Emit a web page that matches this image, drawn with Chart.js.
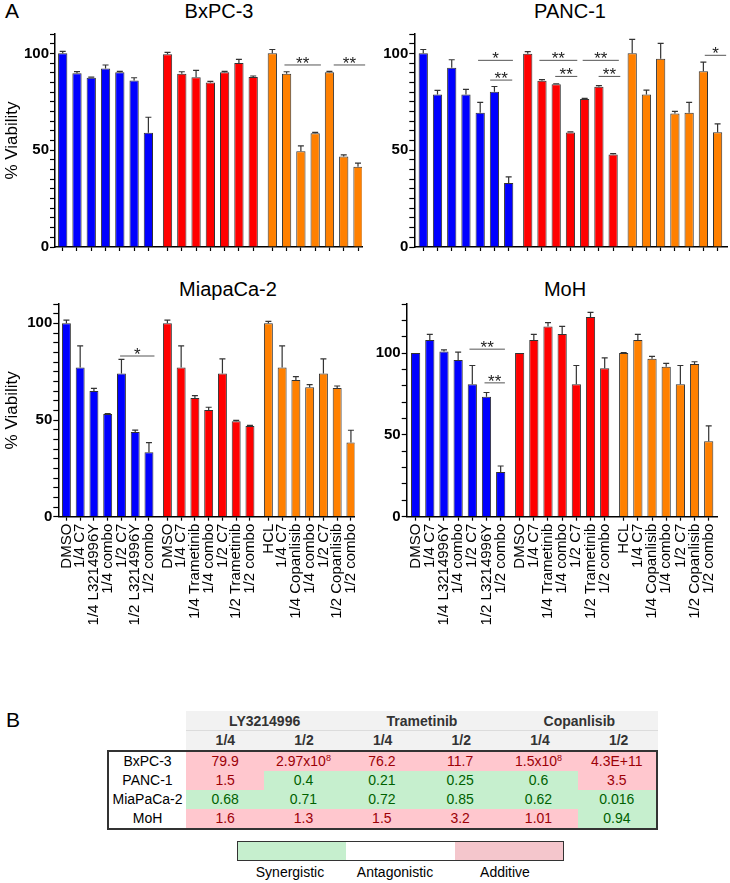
<!DOCTYPE html>
<html>
<head>
<meta charset="utf-8">
<script src="https://cdn.jsdelivr.net/npm/chart.js@4.4.1/dist/chart.umd.min.js"></script>
<style>
  body { margin: 0; background: #fff; width: 730px; height: 883px; position: relative; overflow: hidden;
         font-family: "Liberation Sans", Arial, sans-serif; color: #000; }
  canvas { position: absolute; }
  .letter { position: absolute; font-size: 21px; line-height: 21px; }
  .ttl { position: absolute; width: 200px; text-align: center; font-size: 20px; line-height: 20px; }
  #head { position: absolute; left: 186px; top: 711px; width: 472px; height: 39px; background: #f2f2f2;
          display: grid; grid-template-columns: repeat(6, 1fr); grid-template-rows: 20px 19px; }
  #head div { text-align: center; font-weight: bold; font-size: 14px; color: #333; }
  #head .grp { grid-column: span 2; line-height: 20px; border-bottom: 1px solid #dcdcdc; }
  #head .sub { line-height: 19px; }
  #body { position: absolute; left: 107px; top: 750px; width: 551px; height: 80px; box-sizing: border-box;
          border: 2px solid #333; display: grid; grid-template-columns: 77px repeat(6, 1fr);
          grid-template-rows: repeat(4, 19px); }
  #body div { text-align: center; font-size: 14px; line-height: 19px; }
  #body .add { background: #ffc7ce; color: #9c0006; }
  #body .syn { background: #c6efce; color: #006100; }
  sup { font-size: 9px; line-height: 0; vertical-align: 5px; }
  #legend { position: absolute; left: 237px; top: 841px; width: 327px; height: 20px; box-sizing: border-box;
            border: 1.5px solid #333; display: flex; }
  #legend div { flex: 1; }
  .leg { position: absolute; top: 863px; width: 110px; text-align: center; font-size: 14px; line-height: 18px; }
</style>
</head>
<body>
<div class="letter" style="left:5px;top:0px">A</div>
<div class="letter" style="left:6px;top:709px">B</div>

<div class="ttl" style="left:119px;top:1px">BxPC-3</div>
<div class="ttl" style="left:470px;top:1px">PANC-1</div>
<div class="ttl" style="left:128px;top:279px">MiapaCa-2</div>
<div class="ttl" style="left:465px;top:279px">MoH</div>

<canvas id="c1" width="368" height="262" style="left:0px;top:0px"></canvas>
<canvas id="c2" width="365" height="262" style="left:365px;top:0px"></canvas>
<canvas id="c3" width="372" height="370" style="left:0px;top:270px"></canvas>
<canvas id="c4" width="365" height="370" style="left:365px;top:270px"></canvas>

<div id="head"></div>
<div id="body"></div>
<div id="legend"><div style="background:#c6efce"></div><div style="background:#fff"></div><div style="background:#f4c6cc"></div></div>
<div class="leg" style="left:235px">Synergistic</div>
<div class="leg" style="left:340px">Antagonistic</div>
<div class="leg" style="left:450px">Additive</div>

<script>
const FONT = '"Liberation Sans", Arial, sans-serif';

// x categories (3 groups of 7)
const categories = [
  'DMSO', '1/4 C7', '1/4 L3214996Y', '1/4 combo', '1/2 C7', '1/2 L3214996Y', '1/2 combo',
  'DMSO', '1/4 C7', '1/4 Trametinib', '1/4 combo', '1/2 C7', '1/2 Trametinib', '1/2 combo',
  'HCL', '1/4 C7', '1/4 Copanlisib', '1/4 combo', '1/2 C7', '1/2 Copanlisib', '1/2 combo'
];
const groupColors = ['#0000ff', '#ff0000', '#ff8000'];

// % viability, mean and error (upper bar)
const bxpcMean = [100, 89.7, 87.4, 92.2, 90.2, 86, 59,   99.5, 89.5, 87.6, 85, 90.2, 95, 87.8,   100, 89.5, 49.5, 58.8, 90.2, 46.7, 41.5];
const bxpcErr  = [1, 0.9, 0.3, 1.8, 0.5, 1.4, 8,         1, 1, 3.6, 0.5, 0.5, 1.9, 0.5,           2, 1, 2.7, 0.4, 0.5, 0.9, 1.8];
const pancMean = [100, 78.8, 92.6, 78.8, 69.3, 80.2, 33.1, 99.8, 85.9, 84, 59.1, 76.4, 82.8, 47.8, 100, 78.8, 97.2, 69, 69.3, 90.7, 59.3];
const pancErr  = [2, 2.1, 4.1, 2.6, 5.4, 2.7, 3.1,       1.1, 0.5, 0.3, 0.4, 0.4, 0.5, 0.4,       7.2, 2.2, 8, 1, 5.4, 4.8, 4.3];
const miaMean  = [100, 77.1, 65, 53.1, 74.1, 43.8, 33.3,  100, 77.1, 61.4, 55.2, 74.1, 49.3, 46.9,  100, 77.1, 70.7, 66.9, 74.1, 66.6, 38.4];
const miaErr   = [1.7, 11.2, 1.4, 0.2, 7.3, 1, 5,        1.7, 11.2, 1.2, 1.4, 7.5, 0.5, 0.3,      1, 11.2, 1.7, 1.4, 7.5, 1, 6.3];
const mohMean  = [100, 108, 101, 95.7, 81, 73.3, 27.3,    100, 108, 116.3, 111.6, 81, 122, 90.8,   100, 108, 96.5, 91.6, 81, 93.3, 46.1];
const mohErr   = [0, 3.4, 1, 4.9, 11.4, 2.6, 3.7,        0, 3.4, 2.3, 4.7, 11.4, 2.9, 6.3,        0.3, 3.4, 1.5, 2.1, 11.4, 1.4, 9.4];

// significance brackets: [from bar, to bar, y value, label]
const bxpcSig = [[14.85, 17.4, 94, '**'], [18.3, 20.5, 94, '**']];
const pancSig = [[3.85, 6.3, 96.4, '*'], [4.7, 6.25, 86.2, '**'], [7.82, 10.48, 96.4, '**'], [8.93, 10.48, 88.1, '**'],
                 [10.86, 13.4, 96.4, '**'], [11.98, 13.5, 88.1, '**'], [19.1, 20.6, 99, '*']];
const miaSig  = [[3.9, 6.4, 83.1, '*']];
const mohSig  = [[3.8, 6.3, 102.4, '**'], [4.86, 6.3, 81.8, '**']];

// table B
const tableDrugs = ['LY3214996', 'Trametinib', 'Copanlisib'];
const tableDoses = ['1/4', '1/2', '1/4', '1/2', '1/4', '1/2'];
const tableLines = ['BxPC-3', 'PANC-1', 'MiaPaCa-2', 'MoH'];
const tableVals = [
  ['79.9', '2.97x10^8', '76.2', '11.7', '1.5x10^8', '4.3E+11'],
  ['1.5', '0.4', '0.21', '0.25', '0.6', '3.5'],
  ['0.68', '0.71', '0.72', '0.85', '0.62', '0.016'],
  ['1.6', '1.3', '1.5', '3.2', '1.01', '0.94']
];

const GAP = 0.34;
function barPos(i) { return i + GAP * Math.floor(i / 7); }

const errorBars = {
  id: 'errorBars',
  afterDatasetsDraw(chart) {
    const ds = chart.data.datasets[0];
    const meta = chart.getDatasetMeta(0);
    const y = chart.scales.y;
    const ctx = chart.ctx;
    ctx.save();
    ctx.strokeStyle = '#333';
    ctx.lineWidth = 1.2;
    meta.data.forEach((bar, i) => {
      const e = ds.errors[i];
      if (!e) return;
      const top = y.getPixelForValue(ds.data[i].y + e);
      ctx.beginPath();
      ctx.moveTo(bar.x, bar.y);
      ctx.lineTo(bar.x, top);
      ctx.moveTo(bar.x - 3, top);
      ctx.lineTo(bar.x + 3, top);
      ctx.stroke();
    });
    ctx.restore();
  }
};

const brackets = {
  id: 'brackets',
  afterDatasetsDraw(chart, args, opts) {
    const x = chart.scales.x, y = chart.scales.y, ctx = chart.ctx;
    ctx.save();
    (opts.items || []).forEach(([a, b, v, txt]) => {
      const pa = a + GAP * Math.floor(a / 7), pb = b + GAP * Math.floor(b / 7);
      const x1 = x.getPixelForValue(pa), x2 = x.getPixelForValue(pb), yy = y.getPixelForValue(v);
      ctx.strokeStyle = '#555';
      ctx.lineWidth = 1;
      ctx.beginPath();
      ctx.moveTo(x1, yy);
      ctx.lineTo(x2, yy);
      ctx.stroke();
      ctx.fillStyle = '#222';
      ctx.font = '17px ' + FONT;
      ctx.textAlign = 'center';
      ctx.textBaseline = 'alphabetic';
      ctx.fillText(txt, (x1 + x2) / 2, yy + 4);
    });
    ctx.restore();
  }
};

function makeChart(p, means, errs, sig) {
  const pts = means.map((v, i) => ({ x: barPos(i), y: v }));
  return new Chart(document.getElementById(p.id), {
    type: 'bar',
    data: {
      datasets: [{
        data: pts,
        errors: errs,
        backgroundColor: means.map((v, i) => groupColors[Math.floor(i / 7)]),
        borderColor: '#333',
        borderWidth: 1,
        barPercentage: 0.65,
        categoryPercentage: 1
      }]
    },
    options: {
      responsive: false,
      animation: false,
      layout: { padding: { top: p.padTop, right: p.padRight, left: 0, bottom: 0 } },
      plugins: {
        legend: { display: false },
        tooltip: { enabled: false },
        brackets: { items: sig }
      },
      scales: {
        x: {
          type: 'linear',
          min: p.xmin,
          max: p.xmax,
          offset: false,
          afterBuildTicks: ax => { ax.ticks = categories.map((c, i) => ({ value: barPos(i) })); },
          afterFit: ax => { ax.height = p.xH; },
          grid: { display: true, drawOnChartArea: false, offset: false, tickLength: 4, color: '#000', tickWidth: 1.2 },
          border: { color: '#000', width: 1.5 },
          ticks: {
            display: p.showX, autoSkip: false, maxRotation: 90, minRotation: 90, padding: 3,
            color: '#000', font: { size: 15, family: FONT },
            callback: (v, i) => categories[i]
          }
        },
        y: {
          min: 0,
          max: p.yMax,
          afterBuildTicks: ax => {
            const t = [];
            for (let v = 0; v <= p.yMax; v += p.step) t.push({ value: v });
            ax.ticks = t;
          },
          afterFit: ax => { ax.width = p.yW; },
          grid: { display: true, drawOnChartArea: false, tickLength: 5, color: '#000', tickWidth: 1.2 },
          border: { color: '#000', width: 1.5 },
          title: { display: p.yTitle, text: '% Viability', color: '#000', font: { size: 17, family: FONT }, padding: { top: 2, bottom: 0 } },
          ticks: {
            autoSkip: false, padding: 1, color: '#000',
            font: { size: 15, weight: 'bold', family: FONT },
            callback: v => (v % 50 === 0 ? String(v) : '')
          }
        }
      }
    },
    plugins: [errorBars, brackets]
  });
}

makeChart({ id: 'c1', padTop: 34, padRight: 6, xH: 15, yW: 55, xmin: -0.54, xmax: 20.96, yMax: 110, step: 5, showX: false, yTitle: true }, bxpcMean, bxpcErr, bxpcSig);
makeChart({ id: 'c2', padTop: 34, padRight: 3, xH: 15, yW: 49.3, xmin: -0.63, xmax: 21.34, yMax: 110, step: 5, showX: false, yTitle: false }, pancMean, pancErr, pancSig);
makeChart({ id: 'c3', padTop: 34, padRight: 6, xH: 123.3, yW: 58.3, xmin: -0.59, xmax: 20.94, yMax: 110, step: 5, showX: true, yTitle: true }, miaMean, miaErr, miaSig);
makeChart({ id: 'c4', padTop: 34, padRight: 10, xH: 123.3, yW: 41.7, xmin: -0.63, xmax: 21.31, yMax: 130, step: 10, showX: true, yTitle: false }, mohMean, mohErr, mohSig);

// table B
const head = document.getElementById('head');
tableDrugs.forEach(d => {
  const el = document.createElement('div');
  el.className = 'grp';
  el.textContent = d;
  head.appendChild(el);
});
tableDoses.forEach(d => {
  const el = document.createElement('div');
  el.className = 'sub';
  el.textContent = d;
  head.appendChild(el);
});
const body = document.getElementById('body');
tableLines.forEach((name, r) => {
  const lab = document.createElement('div');
  lab.textContent = name;
  body.appendChild(lab);
  tableVals[r].forEach(s => {
    const el = document.createElement('div');
    el.className = parseFloat(s) > 1 ? 'add' : 'syn';
    const parts = s.split('^');
    el.textContent = parts[0];
    if (parts[1]) {
      const sup = document.createElement('sup');
      sup.textContent = parts[1];
      el.appendChild(sup);
    }
    body.appendChild(el);
  });
});
</script>
</body>
</html>
